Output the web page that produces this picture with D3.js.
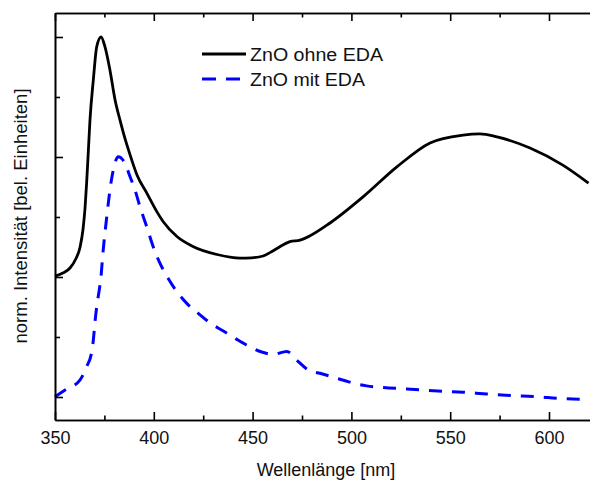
<!DOCTYPE html>
<html lang="de">
<head>
<meta charset="UTF-8">
<title>ZnO Spektren</title>
<style>
  body { margin: 0; background: #fff; }
  text { font-family: Arial, "Liberation Sans", sans-serif; }
</style>
</head>
<body>
<script src="https://d3js.org/d3.v7.min.js"></script>
<script>
const wlOhne = [350, 354, 357.6, 360.5, 362.7, 364.2, 365.2, 366.0, 366.9, 367.7, 369.4, 371.1, 373.3, 375.3, 377.8, 380.4, 382.9, 385.4, 388.0, 391.5, 396.6, 401.6, 404.7, 411.7, 419.8, 432, 443.6, 449.5, 455.3, 459, 462.3, 468.9, 474, 477.5, 489.2, 505.9, 523, 539.8, 556.5, 565, 573.7, 590.4, 607, 620];
const intOhne = [0.403, 0.413, 0.43, 0.46, 0.50, 0.56, 0.63, 0.713, 0.823, 0.923, 1.057, 1.167, 1.2, 1.167, 1.09, 0.99, 0.923, 0.862, 0.807, 0.74, 0.678, 0.617, 0.585, 0.535, 0.502, 0.475, 0.463, 0.464, 0.47, 0.482, 0.495, 0.518, 0.523, 0.532, 0.58, 0.667, 0.767, 0.847, 0.873, 0.877, 0.867, 0.83, 0.773, 0.713];

const wlMit = [350, 355.1, 362.7, 366.0, 368.6, 369.4, 370.2, 371.1, 372.4, 373.1, 374.4, 376.2, 377.8, 379.5, 382.0, 385.4, 388.0, 390.5, 393.0, 396.4, 399.7, 403.1, 407.3, 410.7, 416.7, 422.5, 429.3, 435.2, 442.0, 447.0, 454.6, 460.5, 467.3, 472.3, 478.2, 484.1, 490.8, 496.8, 502.7, 507.7, 516.1, 528, 543.8, 556.5, 568.5, 581.1, 593.8, 605.6, 620];
const intMit = [0.001, 0.023, 0.057, 0.101, 0.151, 0.19, 0.247, 0.301, 0.357, 0.39, 0.49, 0.601, 0.69, 0.757, 0.801, 0.779, 0.734, 0.69, 0.634, 0.568, 0.501, 0.446, 0.395, 0.36, 0.312, 0.279, 0.243, 0.22, 0.192, 0.173, 0.15, 0.142, 0.152, 0.123, 0.09, 0.079, 0.066, 0.054, 0.043, 0.037, 0.032, 0.027, 0.02, 0.016, 0.01, 0.005, 0.001, -0.005, -0.008];

const xMajor = [350, 400, 450, 500, 550, 600];
const xMinor = [375, 425, 475, 525, 575, 625];
const yMajor = [0, 0.4, 0.8, 1.2];
const yMinor = [0.2, 0.6, 1.0];

const seriesNames = ["ZnO ohne EDA", "ZnO mit EDA"];

const width = 590, height = 480;
const margin = {top: 13, left: 55, bottom: 60};

const x = d3.scaleLinear()
  .domain([350, 625])
  .range([margin.left, margin.left + 275 * 1.976]);
const y = d3.scaleLinear()
  .domain([-0.0767, 1.28])
  .range([height - margin.bottom, margin.top]);

const svg = d3.select("body").append("svg")
  .attr("width", width)
  .attr("height", height);

const line = d3.line()
  .x(d => x(d[0]))
  .y(d => y(d[1]))
  .curve(d3.curveMonotoneX);

const ohne = wlOhne.map((w, i) => [w, intOhne[i]]);
const mit = wlMit.map((w, i) => [w, intMit[i]]);

svg.append("path")
  .datum(mit)
  .attr("fill", "none")
  .attr("stroke", "#0000ff")
  .attr("stroke-width", 3)
  .attr("stroke-dasharray", "13,10")
  .attr("d", line);

svg.append("path")
  .datum(ohne)
  .attr("fill", "none")
  .attr("stroke", "#000")
  .attr("stroke-width", 2.8)
  .attr("stroke-linejoin", "round")
  .attr("d", line);

// Achsen
const styleAxis = g => {
  g.select(".domain").attr("stroke", "#000").attr("stroke-width", 1.6);
  g.selectAll(".tick line").attr("stroke", "#000").attr("stroke-width", 1.6);
  g.selectAll("text").attr("font-size", 18).attr("fill", "#111")
    .style("font-family", "Arial, 'Liberation Sans', sans-serif");
};

const bottomY = y.range()[0], topY = y.range()[1];

svg.append("g")
  .attr("transform", `translate(0,${bottomY})`)
  .call(d3.axisBottom(x).tickValues(xMajor).tickSize(-8).tickSizeOuter(0).tickPadding(11).tickFormat(d3.format("d")))
  .call(styleAxis);
svg.append("g")
  .attr("transform", `translate(0,${bottomY})`)
  .call(d3.axisBottom(x).tickValues(xMinor).tickSize(-4.5).tickSizeOuter(0).tickFormat(""))
  .call(styleAxis);

svg.append("g")
  .attr("transform", `translate(0,${topY})`)
  .call(d3.axisTop(x).tickValues(xMajor).tickSize(-8).tickSizeOuter(0).tickFormat(""))
  .call(styleAxis);
svg.append("g")
  .attr("transform", `translate(0,${topY})`)
  .call(d3.axisTop(x).tickValues(xMinor).tickSize(-4.5).tickSizeOuter(0).tickFormat(""))
  .call(styleAxis);

svg.append("g")
  .attr("transform", `translate(${margin.left},0)`)
  .call(d3.axisLeft(y).tickValues(yMajor).tickSize(-8).tickSizeOuter(0).tickFormat(""))
  .call(styleAxis);
svg.append("g")
  .attr("transform", `translate(${margin.left},0)`)
  .call(d3.axisLeft(y).tickValues(yMinor).tickSize(-5).tickSizeOuter(0).tickFormat(""))
  .call(styleAxis);

// Achsentitel
svg.append("text")
  .attr("x", 326)
  .attr("y", 476)
  .attr("text-anchor", "middle")
  .attr("font-size", 18)
  .attr("fill", "#111")
  .text("Wellenlänge [nm]");

svg.append("text")
  .attr("transform", "translate(27,216) rotate(-90)")
  .attr("text-anchor", "middle")
  .attr("font-size", 18.5)
  .attr("fill", "#111")
  .text("norm. Intensität [bel. Einheiten]");

// Legende
const legend = svg.append("g");
const legendY = [54, 79];
const legendWidth = [133, 115];
legend.append("line")
  .attr("x1", 202).attr("x2", 246).attr("y1", legendY[0]).attr("y2", legendY[0])
  .attr("stroke", "#000").attr("stroke-width", 2.8);
legend.append("line")
  .attr("x1", 202).attr("x2", 246).attr("y1", legendY[1]).attr("y2", legendY[1])
  .attr("stroke", "#0000ff").attr("stroke-width", 3).attr("stroke-dasharray", "14,10");
legend.selectAll("text.lbl")
  .data(seriesNames)
  .join("text")
  .attr("class", "lbl")
  .attr("x", 250)
  .attr("y", (d, i) => legendY[i] + 6.5)
  .attr("font-size", 18)
  .attr("fill", "#111")
  .attr("textLength", (d, i) => legendWidth[i])
  .attr("lengthAdjust", "spacingAndGlyphs")
  .text(d => d);
</script>
</body>
</html>
